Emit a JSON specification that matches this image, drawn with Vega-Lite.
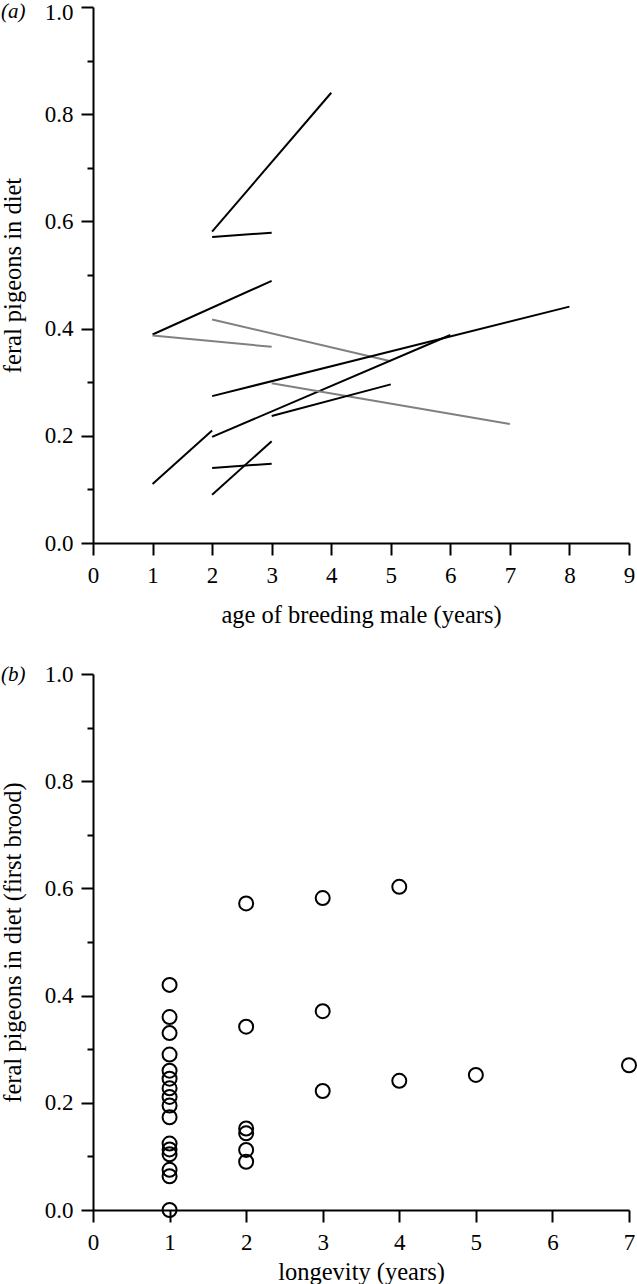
{
  "$schema": "https://vega.github.io/schema/vega-lite/v6.json",
  "padding": {"left": 0, "top": 0, "right": 0, "bottom": 0},
  "spacing": 36,
  "config": {
    "font": "Liberation Serif",
    "view": {"stroke": null},
    "axis": {
      "grid": false,
      "domainColor": "#000000",
      "domainWidth": 2,
      "tickColor": "#000000",
      "tickWidth": 2,
      "labelFont": "Liberation Serif",
      "labelFontSize": 23,
      "labelColor": "#000000",
      "titleFont": "Liberation Serif",
      "titleFontSize": 24.5,
      "titleFontWeight": "normal",
      "titleColor": "#000000"
    },
    "axisX": {"labelPadding": 9, "tickSize": 12, "labelFlush": false},
    "axisY": {"labelPadding": 8, "titlePadding": 19, "labelFlush": false}
  },
  "vconcat": [
    {
      "width": 536,
      "height": 536,
      "resolve": {"axis": {"y": "independent"}},
      "layer": [
        {
          "data": {
            "values": [
              {"id": 1, "grp": "black", "age": 2, "value": 0.581},
              {"id": 1, "grp": "black", "age": 4, "value": 0.840},
              {"id": 2, "grp": "black", "age": 2, "value": 0.571},
              {"id": 2, "grp": "black", "age": 3, "value": 0.579},
              {"id": 3, "grp": "black", "age": 1, "value": 0.389},
              {"id": 3, "grp": "black", "age": 3, "value": 0.489},
              {"id": 4, "grp": "gray", "age": 1, "value": 0.387},
              {"id": 4, "grp": "gray", "age": 3, "value": 0.366},
              {"id": 5, "grp": "gray", "age": 2, "value": 0.417},
              {"id": 5, "grp": "gray", "age": 5, "value": 0.339},
              {"id": 6, "grp": "black", "age": 2, "value": 0.274},
              {"id": 6, "grp": "black", "age": 8, "value": 0.441},
              {"id": 7, "grp": "black", "age": 2, "value": 0.198},
              {"id": 7, "grp": "black", "age": 6, "value": 0.388},
              {"id": 8, "grp": "gray", "age": 3, "value": 0.298},
              {"id": 8, "grp": "gray", "age": 7, "value": 0.222},
              {"id": 9, "grp": "black", "age": 3, "value": 0.237},
              {"id": 9, "grp": "black", "age": 5, "value": 0.296},
              {"id": 10, "grp": "black", "age": 1, "value": 0.110},
              {"id": 10, "grp": "black", "age": 2, "value": 0.210},
              {"id": 11, "grp": "black", "age": 2, "value": 0.140},
              {"id": 11, "grp": "black", "age": 3, "value": 0.148},
              {"id": 12, "grp": "black", "age": 2, "value": 0.090},
              {"id": 12, "grp": "black", "age": 3, "value": 0.190}
            ]
          },
          "mark": {"type": "line", "strokeWidth": 2},
          "encoding": {
            "x": {
              "field": "age", "type": "quantitative",
              "scale": {"domain": [0, 9], "nice": false},
              "axis": {"values": [0, 1, 2, 3, 4, 5, 6, 7, 8, 9], "format": "d", "title": "age of breeding male (years)", "titlePadding": 16}
            },
            "y": {
              "field": "value", "type": "quantitative",
              "scale": {"domain": [0, 1], "nice": false},
              "axis": {
                "orient": "left",
                "values": [0, 0.1, 0.2, 0.3, 0.4, 0.5, 0.6, 0.7, 0.8, 0.9, 1.0],
                "title": "feral pigeons in diet",
                "labelExpr": "round(datum.value * 10) % 2 == 0 ? format(datum.value, '.1f') : ''",
                "tickSize": {"condition": {"test": "round(datum.value * 10) % 2 == 1", "value": 6}, "value": 12},
                "labelOffset": {"condition": {"test": "datum.value == 1", "value": 5}, "value": 0}
              }
            },
            "detail": {"field": "id", "type": "nominal"},
            "color": {
              "field": "grp", "type": "nominal",
              "scale": {"domain": ["black", "gray"], "range": ["#000000", "#808080"]},
              "legend": null
            }
          }
        },
        {
          "data": {"values": [{"panel": "(a)", "value": 1}]},
          "mark": {"type": "point", "opacity": 0},
          "encoding": {
            "y": {
              "field": "value", "type": "quantitative",
              "axis": {
                "orient": "left",
                "values": [1],
                "labelExpr": "'(a)'",
                "ticks": false,
                "domain": false,
                "title": null,
                "labelPadding": 68,
                "labelFontSize": 21,
                "labelFontStyle": "italic",
                "labelOffset": 4.5
              }
            }
          }
        }
      ]
    },
    {
      "width": 536,
      "height": 536,
      "resolve": {"axis": {"y": "independent"}},
      "layer": [
        {
          "data": {
            "values": [
              {"longevity": 1, "value": 0.42},
              {"longevity": 1, "value": 0.36},
              {"longevity": 1, "value": 0.33},
              {"longevity": 1, "value": 0.29},
              {"longevity": 1, "value": 0.26},
              {"longevity": 1, "value": 0.245},
              {"longevity": 1, "value": 0.227},
              {"longevity": 1, "value": 0.211},
              {"longevity": 1, "value": 0.195},
              {"longevity": 1, "value": 0.173},
              {"longevity": 1, "value": 0.124},
              {"longevity": 1, "value": 0.113},
              {"longevity": 1, "value": 0.104},
              {"longevity": 1, "value": 0.075},
              {"longevity": 1, "value": 0.063},
              {"longevity": 1, "value": 0.0},
              {"longevity": 2, "value": 0.572},
              {"longevity": 2, "value": 0.342},
              {"longevity": 2, "value": 0.152},
              {"longevity": 2, "value": 0.143},
              {"longevity": 2, "value": 0.112},
              {"longevity": 2, "value": 0.09},
              {"longevity": 3, "value": 0.582},
              {"longevity": 3, "value": 0.371},
              {"longevity": 3, "value": 0.222},
              {"longevity": 4, "value": 0.603},
              {"longevity": 4, "value": 0.241},
              {"longevity": 5, "value": 0.252},
              {"longevity": 7, "value": 0.27}
            ]
          },
          "mark": {"type": "point", "shape": "circle", "filled": false, "stroke": "#000000", "strokeWidth": 2, "size": 196, "opacity": 1},
          "encoding": {
            "x": {
              "field": "longevity", "type": "quantitative",
              "scale": {"domain": [0, 7], "nice": false},
              "axis": {"values": [0, 1, 2, 3, 4, 5, 6, 7], "format": "d", "title": "longevity (years)", "titlePadding": 6}
            },
            "y": {
              "field": "value", "type": "quantitative",
              "scale": {"domain": [0, 1], "nice": false},
              "axis": {
                "orient": "left",
                "values": [0, 0.1, 0.2, 0.3, 0.4, 0.5, 0.6, 0.7, 0.8, 0.9, 1.0],
                "title": "feral pigeons in diet (first brood)",
                "labelExpr": "round(datum.value * 10) % 2 == 0 ? format(datum.value, '.1f') : ''",
                "tickSize": {"condition": {"test": "round(datum.value * 10) % 2 == 1", "value": 6}, "value": 12}
              }
            }
          }
        },
        {
          "data": {"values": [{"panel": "(b)", "value": 1}]},
          "mark": {"type": "point", "opacity": 0},
          "encoding": {
            "y": {
              "field": "value", "type": "quantitative",
              "axis": {
                "orient": "left",
                "values": [1],
                "labelExpr": "'(b)'",
                "ticks": false,
                "domain": false,
                "title": null,
                "labelPadding": 68,
                "labelFontSize": 21,
                "labelFontStyle": "italic",
                "labelOffset": 0
              }
            }
          }
        }
      ]
    }
  ]
}
